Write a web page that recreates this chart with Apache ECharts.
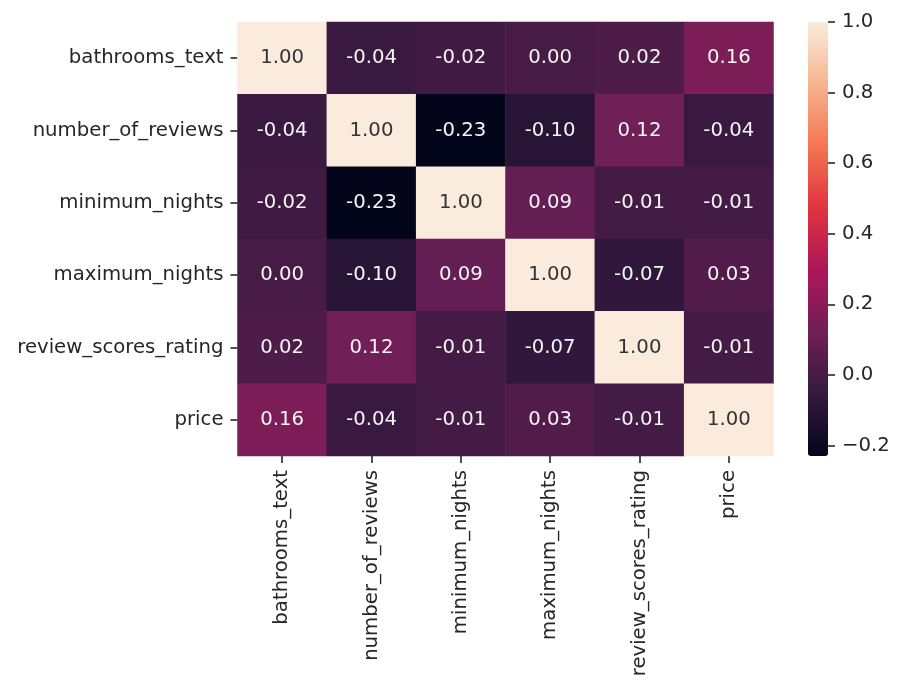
<!DOCTYPE html>
<html lang="en">
<head>
    <meta charset="UTF-8">
    <title>Correlation heatmap</title>
    <script src="https://cdn.jsdelivr.net/npm/echarts@6/dist/echarts.min.js"></script>
    <style>
        html, body { margin: 0; padding: 0; background: #fff; }
    </style>
</head>
<body>
<div id="main" style="width: 904px;height:694px;"></div>
<script type="text/javascript">

    var features = ['bathrooms_text', 'number_of_reviews', 'minimum_nights',
        'maximum_nights', 'review_scores_rating', 'price'];

    // correlation rows, same order as features
    var rowBathrooms = [1.00, -0.04, -0.02, 0.00, 0.02, 0.16];
    var rowReviews   = [-0.04, 1.00, -0.23, -0.10, 0.12, -0.04];
    var rowMinNights = [-0.02, -0.23, 1.00, 0.09, -0.01, -0.01];
    var rowMaxNights = [0.00, -0.10, 0.09, 1.00, -0.07, 0.03];
    var rowRating    = [0.02, 0.12, -0.01, -0.07, 1.00, -0.01];
    var rowPrice     = [0.16, -0.04, -0.01, 0.03, -0.01, 1.00];

    var colorbarTicks = [-0.2, 0.0, 0.2, 0.4, 0.6, 0.8, 1.0];
    var vmin = -0.23, vmax = 1.0;

    // seaborn "rocket"
    var rocket = ['#03051a', '#35193e', '#701f57', '#ad1759',
        '#e13342', '#f37651', '#f6b48f', '#faebdd'];

    var rows = [rowBathrooms, rowReviews, rowMinNights, rowMaxNights, rowRating, rowPrice];
    var data = [];
    rows.forEach(function (row, y) {
        row.forEach(function (v, x) {
            data.push([x, y, v]);
        });
    });

    var font = 'DejaVu Sans';
    var ink = '#262626';
    var fs = 19.7;
    var hiddenLine = { show: true, onZero: false, lineStyle: { color: 'rgba(0,0,0,0)' } };
    var tick = { show: true, length: 7, lineStyle: { color: ink, width: 1.6 } };

    var myChart = echarts.init(document.getElementById('main'));
    var option = {
        backgroundColor: '#fff',
        animation: false,
        textStyle: { fontFamily: font },
        grid: [
            { left: 237.5, top: 22, width: 536, height: 434 },
            { left: 808, top: 22, width: 20, height: 434 }
        ],
        xAxis: [
            {
                type: 'category', gridIndex: 0, data: features, position: 'bottom',
                axisLine: hiddenLine,
                axisTick: echarts.util.merge({ alignWithLabel: true }, tick),
                axisLabel: { rotate: 90, margin: 14, fontSize: fs, color: ink, fontFamily: font, interval: 0 },
                splitLine: { show: false }
            },
            { type: 'value', gridIndex: 1, show: false, min: 0, max: 1 }
        ],
        yAxis: [
            {
                type: 'category', gridIndex: 0, data: features, inverse: true,
                axisLine: hiddenLine,
                axisTick: echarts.util.merge({ alignWithLabel: true }, tick),
                axisLabel: { margin: 14, fontSize: fs, color: ink, fontFamily: font, interval: 0 },
                splitLine: { show: false }
            },
            {
                type: 'value', gridIndex: 1, position: 'right', min: vmin, max: vmax,
                axisLine: hiddenLine,
                splitLine: { show: false },
                axisTick: echarts.util.merge({ customValues: colorbarTicks }, tick),
                axisLabel: {
                    margin: 14, fontSize: fs, color: ink, fontFamily: font,
                    customValues: colorbarTicks,
                    formatter: function (v) { return v.toFixed(1).replace('-', '\u2212'); }
                }
            }
        ],
        visualMap: {
            type: 'continuous',
            seriesIndex: 0,
            min: vmin,
            max: vmax,
            calculable: false,
            hoverLink: false,
            showLabel: false,
            text: ['', ''],
            left: 808,
            top: 22,
            padding: 0,
            itemWidth: 20,
            itemHeight: 434,
            inRange: { color: rocket }
        },
        series: [
            {
                type: 'heatmap',
                xAxisIndex: 0,
                yAxisIndex: 0,
                data: data,
                label: {
                    show: true,
                    fontFamily: font,
                    fontSize: fs,
                    formatter: function (p) {
                        var v = p.value[2];
                        return (v > 0.6 ? '{d|' : '{l|') + v.toFixed(2) + '}';
                    },
                    rich: {
                        d: { color: '#333333', fontSize: fs, fontFamily: font },
                        l: { color: '#f4f4f4', fontSize: fs, fontFamily: font }
                    }
                },
                emphasis: { disabled: true }
            }
        ]
    };
    myChart.setOption(option);

</script>
</body>
</html>
